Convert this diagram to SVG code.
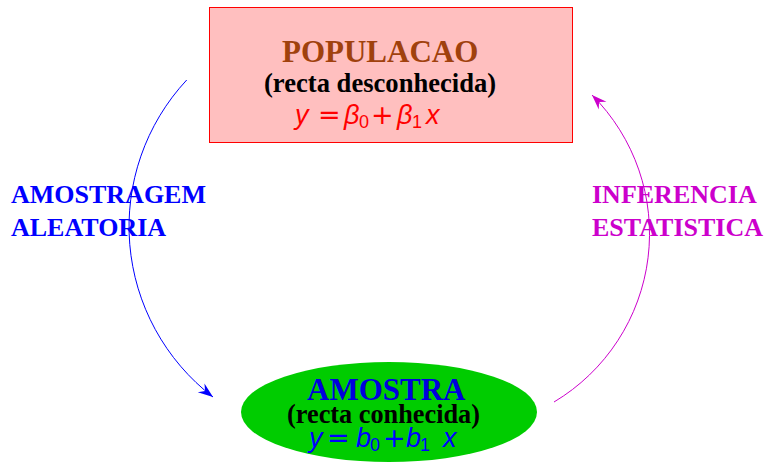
<svg xmlns="http://www.w3.org/2000/svg" width="764" height="463" viewBox="0 0 764 463">
<style>
.serif{font-family:"Liberation Serif","Times New Roman",serif;font-weight:bold}
.math{font-family:"Liberation Sans",Arial,sans-serif}
.it{font-style:italic}
.op{font-family:"DejaVu Sans",sans-serif;font-style:normal}
.sub{font-size:18px}
</style>
<defs>
<marker id="ab" markerUnits="userSpaceOnUse" orient="auto" overflow="visible" markerWidth="20" markerHeight="20">
<path d="M0,0 L-15,-5.5 L-10,0 L-15,5.5 Z" fill="#0000ff"/>
</marker>
<marker id="am" markerUnits="userSpaceOnUse" orient="auto" overflow="visible" markerWidth="20" markerHeight="20">
<path d="M0,0 L-15,-5.5 L-10,0 L-15,5.5 Z" fill="#cc00cc"/>
</marker>
</defs>
<rect width="764" height="463" fill="#ffffff"/>
<g id="populacao">
<rect x="209.5" y="7.5" width="363" height="135" fill="#ffbfbf" stroke="#ff0000" stroke-width="1"/>
<text class="serif" x="282" y="62" font-size="31" fill="#a0410d">POPULACAO</text>
<text class="serif" x="264" y="92" font-size="26.6" fill="#000000">(recta desconhecida)</text>
<text class="math" y="124" font-size="27" fill="#ff0000"><tspan class="it" x="295">y</tspan><tspan class="op" x="318">=</tspan><tspan class="it" x="344">β</tspan><tspan class="sub" x="359" dy="4">0</tspan><tspan class="op" x="371" dy="-4">+</tspan><tspan class="it" x="397">β</tspan><tspan class="sub" x="412" dy="4">1</tspan><tspan class="it" x="426" dy="-4">x</tspan></text>
</g>
<g id="amostra">
<ellipse cx="389" cy="412" rx="148" ry="50" fill="#00cc00"/>
<text class="serif" x="307" y="400" font-size="31" fill="#0000dd">AMOSTRA</text>
<text class="serif" x="287" y="423" font-size="26.3" fill="#000000">(recta conhecida)</text>
<text class="math" y="447" font-size="27" fill="#0000ff"><tspan class="it" x="309">y</tspan><tspan class="op" x="327">=</tspan><tspan class="it" x="356">b</tspan><tspan class="sub" x="370" dy="4">0</tspan><tspan class="op" x="383" dy="-4">+</tspan><tspan class="it" x="406">b</tspan><tspan class="sub" x="420" dy="4">1</tspan><tspan class="it" x="443" dy="-4">x</tspan></text>
</g>
<g id="connectors" fill="none" stroke-width="1">
<path d="M186.7,80 A215,215 0 0 0 213,397" stroke="#0000ff" marker-end="url(#ab)"/>
<path d="M554,402 A196,196 0 0 0 592,95" stroke="#cc00cc" marker-end="url(#am)"/>
</g>
<g id="labels">
<text class="serif" font-size="26" fill="#0000ff"><tspan x="11" y="203">AMOSTRAGEM</tspan><tspan x="11" y="236">ALEATORIA</tspan></text>
<text class="serif" font-size="26" fill="#cc00cc"><tspan x="592" y="203">INFERENCIA</tspan><tspan x="592" y="236">ESTATISTICA</tspan></text>
</g>
</svg>
